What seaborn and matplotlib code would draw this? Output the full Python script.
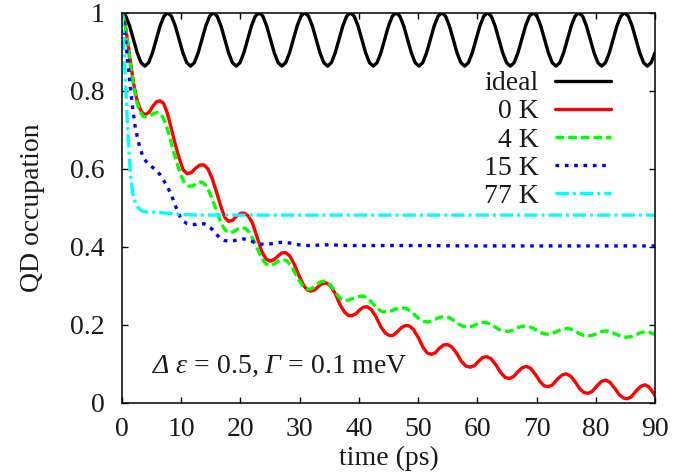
import numpy as np
import pandas as pd
import matplotlib
matplotlib.use("Agg")
import matplotlib.pyplot as plt
import seaborn as sns

# ---------------------------------------------------------------- data
series_names = ["ideal", "0 K", "4 K", "15 K", "77 K"]
series_colors = ["#000000", "#ff0000", "#00ff00", "#0000ff", "#00ffff"]

x_ticks = [0, 10, 20, 30, 40, 50, 60, 70, 80, 90]
y_ticks = [0, 0.2, 0.4, 0.6, 0.8, 1]
y_tick_labels = ["0", "0.2", "0.4", "0.6", "0.8", "1"]

# ideal (phonon-free) Rabi-type oscillation, sampled on a regular time grid
ideal_t = np.linspace(0, 90, 141)
ideal_y = [
    1.000, 0.991, 0.966, 0.932, 0.897, 0.872, 0.863, 0.872, 0.897, 0.932, 0.966, 0.991,
    1.000, 0.991, 0.966, 0.932, 0.897, 0.872, 0.863, 0.872, 0.897, 0.932, 0.966, 0.991,
    1.000, 0.991, 0.966, 0.932, 0.897, 0.872, 0.863, 0.872, 0.897, 0.932, 0.966, 0.991,
    1.000, 0.991, 0.966, 0.932, 0.897, 0.872, 0.863, 0.872, 0.897, 0.932, 0.966, 0.991,
    1.000, 0.991, 0.966, 0.932, 0.897, 0.872, 0.863, 0.872, 0.897, 0.932, 0.966, 0.991,
    1.000, 0.991, 0.966, 0.932, 0.897, 0.872, 0.863, 0.872, 0.897, 0.932, 0.966, 0.991,
    1.000, 0.991, 0.966, 0.932, 0.897, 0.872, 0.863, 0.872, 0.897, 0.932, 0.966, 0.991,
    1.000, 0.991, 0.966, 0.932, 0.897, 0.872, 0.863, 0.872, 0.897, 0.932, 0.966, 0.991,
    1.000, 0.991, 0.966, 0.932, 0.897, 0.872, 0.863, 0.872, 0.897, 0.932, 0.966, 0.991,
    1.000, 0.991, 0.966, 0.932, 0.897, 0.872, 0.863, 0.872, 0.897, 0.932, 0.966, 0.991,
    1.000, 0.991, 0.966, 0.932, 0.897, 0.872, 0.863, 0.872, 0.897, 0.932, 0.966, 0.991,
    1.000, 0.991, 0.966, 0.932, 0.897, 0.872, 0.863, 0.872, 0.897,
]

# (time in ps, occupation)
occ_0K = [
    (0, 1.0), (0.5, 0.975), (1.0, 0.92), (1.5, 0.865), (2.0, 0.815), (2.5, 0.778),
    (3.0, 0.755), (3.5, 0.742), (4.0, 0.739), (4.6, 0.745), (5.2, 0.760), (5.8, 0.771),
    (6.4, 0.774), (7.0, 0.768), (7.6, 0.745), (8.3, 0.705), (9.0, 0.662), (9.7, 0.625),
    (10.3, 0.598), (11.0, 0.587), (11.7, 0.590), (12.4, 0.601), (13.1, 0.609), (13.8, 0.610),
    (14.5, 0.600), (15.2, 0.576), (16.0, 0.538), (16.8, 0.498), (17.4, 0.474), (18.0, 0.465),
    (18.7, 0.468), (19.4, 0.479), (20.1, 0.486), (20.7, 0.486), (21.3, 0.479), (22.0, 0.462),
    (22.8, 0.425), (23.6, 0.388), (24.3, 0.369), (25.0, 0.363), (25.7, 0.367), (26.4, 0.377),
    (27.0, 0.384), (27.6, 0.385), (28.3, 0.377), (29.1, 0.355), (29.9, 0.325), (30.7, 0.300),
    (31.3, 0.289), (31.9, 0.286), (32.6, 0.290), (33.3, 0.300), (33.9, 0.306), (34.5, 0.307),
    (35.2, 0.300), (36.0, 0.280), (36.8, 0.252), (37.6, 0.232), (38.2, 0.224), (38.8, 0.223),
    (39.5, 0.228), (40.2, 0.239), (40.8, 0.245), (41.4, 0.246), (42.1, 0.239), (42.9, 0.220),
    (43.7, 0.195), (44.5, 0.178), (45.2, 0.172), (45.8, 0.173), (46.5, 0.182), (47.2, 0.193),
    (47.9, 0.198), (48.5, 0.197), (49.2, 0.188), (50.0, 0.168), (50.8, 0.143), (51.5, 0.128),
    (52.2, 0.124), (52.9, 0.128), (53.6, 0.140), (54.3, 0.148), (55.0, 0.149), (55.7, 0.143),
    (56.5, 0.127), (57.3, 0.106), (58.1, 0.094), (58.8, 0.091), (59.5, 0.095), (60.2, 0.106),
    (60.9, 0.116), (61.6, 0.118), (62.3, 0.113), (63.1, 0.098), (63.9, 0.078), (64.7, 0.065),
    (65.4, 0.062), (66.1, 0.067), (66.9, 0.080), (67.6, 0.090), (68.3, 0.093), (69.0, 0.088),
    (69.8, 0.073), (70.6, 0.054), (71.3, 0.043), (72.0, 0.041), (72.7, 0.046), (73.5, 0.060),
    (74.3, 0.071), (75.0, 0.074), (75.7, 0.069), (76.5, 0.054), (77.3, 0.036), (78.0, 0.026),
    (78.7, 0.024), (79.4, 0.029), (80.2, 0.043), (81.0, 0.055), (81.7, 0.058), (82.4, 0.052),
    (83.2, 0.037), (84.0, 0.020), (84.7, 0.012), (85.3, 0.010), (86.0, 0.015), (86.8, 0.030),
    (87.6, 0.042), (88.3, 0.046), (89.0, 0.040), (89.5, 0.030), (90.0, 0.018),
]

occ_4K = [
    (0, 1.0), (0.5, 0.972), (1.0, 0.915), (1.5, 0.858), (2.0, 0.808), (2.5, 0.770),
    (3.0, 0.747), (3.6, 0.734), (4.2, 0.733), (4.8, 0.737), (5.4, 0.742), (6.0, 0.744),
    (6.6, 0.740), (7.2, 0.722), (7.8, 0.695), (8.5, 0.655), (9.2, 0.618), (9.9, 0.585),
    (10.6, 0.563), (11.3, 0.555), (12.0, 0.556), (12.7, 0.563), (13.3, 0.566), (13.9, 0.562),
    (14.6, 0.545), (15.3, 0.520), (16.0, 0.490), (16.7, 0.462), (17.4, 0.443), (18.1, 0.436),
    (18.8, 0.438), (19.5, 0.445), (20.2, 0.449), (20.8, 0.447), (21.5, 0.437), (22.2, 0.418),
    (22.9, 0.393), (23.6, 0.370), (24.3, 0.356), (25.0, 0.352), (25.7, 0.356), (26.4, 0.363),
    (27.1, 0.367), (27.8, 0.364), (28.5, 0.352), (29.2, 0.333), (29.9, 0.313), (30.6, 0.298),
    (31.3, 0.291), (32.0, 0.292), (32.7, 0.300), (33.4, 0.309), (34.0, 0.312), (34.7, 0.309),
    (35.4, 0.298), (36.1, 0.282), (36.8, 0.268), (37.5, 0.262), (38.2, 0.263), (38.9, 0.267),
    (39.6, 0.271), (40.3, 0.273), (41.0, 0.272), (41.7, 0.265), (42.5, 0.252), (43.2, 0.240),
    (43.9, 0.234), (44.6, 0.233), (45.3, 0.235), (46.0, 0.239), (46.7, 0.242), (47.4, 0.243),
    (48.1, 0.241), (48.8, 0.234), (49.6, 0.223), (50.3, 0.213), (51.0, 0.208), (51.7, 0.207),
    (52.4, 0.210), (53.2, 0.216), (53.9, 0.220), (54.6, 0.221), (55.3, 0.218), (56.0, 0.211),
    (56.8, 0.202), (57.6, 0.196), (58.4, 0.194), (59.1, 0.196), (59.9, 0.201), (60.6, 0.205),
    (61.3, 0.206), (62.0, 0.203), (62.8, 0.196), (63.6, 0.188), (64.4, 0.184), (65.2, 0.183),
    (66.0, 0.186), (66.8, 0.192), (67.6, 0.196), (68.4, 0.196), (69.2, 0.193), (70.0, 0.186),
    (70.8, 0.179), (71.6, 0.176), (72.3, 0.176), (73.1, 0.180), (73.9, 0.186), (74.7, 0.190),
    (75.5, 0.190), (76.3, 0.186), (77.1, 0.178), (77.9, 0.173), (78.7, 0.171), (79.5, 0.173),
    (80.3, 0.178), (81.1, 0.183), (81.9, 0.184), (82.7, 0.181), (83.5, 0.175), (84.3, 0.170),
    (85.1, 0.168), (85.9, 0.169), (86.7, 0.174), (87.5, 0.179), (88.3, 0.182), (89.1, 0.180),
    (90.0, 0.175),
]

occ_15K = [
    (0, 1.0), (0.3, 0.97), (0.6, 0.93), (1.0, 0.87), (1.4, 0.81), (1.8, 0.755),
    (2.2, 0.71), (2.6, 0.68), (3.0, 0.655), (3.5, 0.632), (4.0, 0.620), (4.6, 0.610),
    (5.2, 0.603), (5.9, 0.595), (6.5, 0.583), (7.1, 0.568), (7.6, 0.556), (8.1, 0.540),
    (8.6, 0.522), (9.2, 0.498), (9.8, 0.477), (10.4, 0.465), (11.0, 0.459), (11.7, 0.457),
    (12.4, 0.457), (13.1, 0.459), (13.8, 0.459), (14.5, 0.454), (15.2, 0.445), (15.9, 0.432),
    (16.6, 0.422), (17.3, 0.416), (18.0, 0.414), (18.8, 0.415), (19.6, 0.418), (20.4, 0.420),
    (21.1, 0.419), (21.8, 0.415), (22.5, 0.410), (23.3, 0.407), (24.1, 0.406), (24.9, 0.407),
    (25.8, 0.409), (26.7, 0.411), (27.6, 0.411), (28.5, 0.409), (29.4, 0.406), (30.3, 0.404),
    (31.5, 0.403), (33.0, 0.404), (35.0, 0.405), (38.0, 0.403), (42.0, 0.403), (50.0, 0.403),
    (60.0, 0.402), (70.0, 0.402), (80.0, 0.402), (90.0, 0.402),
]

occ_77K = [
    (0, 1.0), (0.25, 0.93), (0.5, 0.85), (0.75, 0.77), (1.0, 0.69), (1.25, 0.625),
    (1.5, 0.575), (1.8, 0.54), (2.2, 0.515), (2.7, 0.500), (3.3, 0.492), (4.0, 0.489),
    (5.0, 0.489), (6.0, 0.488), (7.5, 0.486), (9.0, 0.484), (11.0, 0.482), (14.0, 0.481),
    (20.0, 0.481), (30.0, 0.481), (45.0, 0.481), (60.0, 0.481), (75.0, 0.481), (90.0, 0.481),
]

# --------------------------------------------------------------- table
frames = [pd.DataFrame({"t": ideal_t, "occ": ideal_y, "series": "ideal"})]
for name, pts in zip(series_names[1:], [occ_0K, occ_4K, occ_15K, occ_77K]):
    t, y = zip(*pts)
    frames.append(pd.DataFrame({"t": t, "occ": y, "series": name}))
df = pd.concat(frames, ignore_index=True)

# ---------------------------------------------------------------- style
sns.set_style("ticks")
plt.rcParams["font.family"] = ["Liberation Serif", "DejaVu Serif"]
plt.rcParams["mathtext.fontset"] = "custom"
plt.rcParams["mathtext.rm"] = "Liberation Serif:italic"
plt.rcParams["mathtext.it"] = "Liberation Serif:italic"
plt.rcParams["mathtext.cal"] = "Liberation Serif:italic"
FS = 20
LW = 2.4
TEXT_COLOR = "#1a1a1a"

palette = dict(zip(series_names, series_colors))
dash_styles = {
    "ideal": "",
    "0 K": "",
    "4 K": (2.6, 1.2),
    "15 K": (1.1, 1.7),
    "77 K": (4.0, 1.2, 0.9, 1.2),
}

fig = plt.figure(figsize=(7.0, 4.74), dpi=100)
ax = fig.add_axes([0.1743, 0.1504, 0.7614, 0.8228])

sns.lineplot(
    data=df, x="t", y="occ", hue="series", style="series",
    hue_order=series_names, style_order=series_names,
    palette=palette, dashes=dash_styles, linewidth=LW,
    sort=False, estimator=None, ax=ax, legend=True,
)

ax.set_xlim(0, 90)
ax.set_ylim(0, 1)
ax.set_xticks(x_ticks)
ax.set_xticklabels([str(v) for v in x_ticks])
ax.set_yticks(y_ticks)
ax.set_yticklabels(y_tick_labels)
ax.tick_params(axis="both", direction="in", top=True, right=True,
               length=4, width=1.0, labelsize=FS, colors="black",
               labelcolor=TEXT_COLOR)
ax.tick_params(axis="x", pad=10)
ax.tick_params(axis="y", pad=12.5)
for s in ax.spines.values():
    s.set_linewidth(1.1)
    s.set_color("black")

ax.set_xlabel("time (ps)", fontsize=FS, labelpad=3, color=TEXT_COLOR)
ax.set_ylabel("QD occupation", fontsize=FS, labelpad=18, color=TEXT_COLOR)

# gnuplot-style key: labels right-aligned, line sample on the right
old = ax.get_legend()
handles = list(old.legend_handles)
labels = [t.get_text() for t in old.get_texts()]
old.remove()
for h in handles:
    h.set_linewidth(LW)
leg = ax.legend(handles, labels, loc="upper right", bbox_to_anchor=(0.917, 0.851),
                frameon=False, markerfirst=False, fontsize=FS, handlelength=2.0,
                handletextpad=0.6, labelspacing=0.1, borderpad=0, borderaxespad=0)
for t in leg.get_texts():
    t.set_color(TEXT_COLOR)

ax.text(5.0, 0.076, r"$\Delta\ \varepsilon$ = 0.5, $\Gamma$ = 0.1 meV",
        fontsize=FS, ha="left", va="baseline", color=TEXT_COLOR)

fig.savefig("out.png", dpi=100)
